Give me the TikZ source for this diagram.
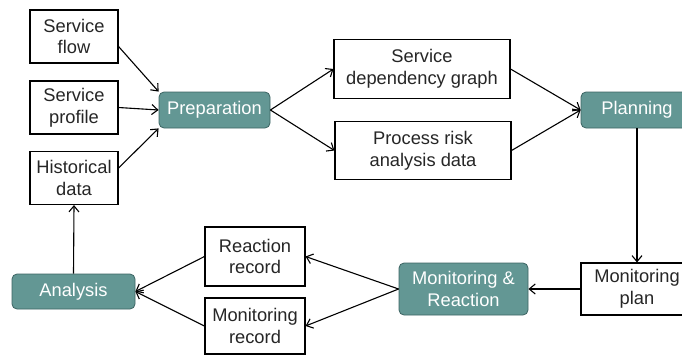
\documentclass[tikz,border=0pt]{standalone}
\usepackage{fontspec}
\setmainfont{Liberation Sans}
\usetikzlibrary{arrows.meta}
\definecolor{tealfill}{RGB}{99,151,148}
\definecolor{tealdraw}{RGB}{60,100,98}
\definecolor{txt}{RGB}{38,38,38}
\tikzset{
  base/.style={font=\fontsize{18.3}{21.7}\selectfont, align=center, inner sep=0pt, line width=1.1pt},
  databox/.style={base, draw=black, fill=white, text=txt},
  phase/.style={base, draw=tealdraw, fill=tealfill, text=white, rounded corners=5pt, line width=0.8pt},
  arr/.style={line width=1.1pt, -{Straight Barb[length=6pt,width=10pt,line width=1.1pt]}}
}
\begin{document}
\begin{tikzpicture}[x=1pt,y=-1pt]
\useasboundingbox (0,0) rectangle (682,356);
\clip (0,0) rectangle (682,356);
\node[databox, minimum width=88pt, minimum height=53pt] (sflow) at (74,36.5) {Service\\flow};
\node[databox, minimum width=88pt, minimum height=53pt] (sprof) at (74,107.5) {Service\\profile};
\node[databox, minimum width=88pt, minimum height=53pt] (hist) at (74,178) {Historical\\data};
\node[phase, minimum width=111pt, minimum height=36pt] (prep) at (214.5,110) {Preparation};
\node[databox, minimum width=176pt, minimum height=59pt] (sdg) at (422,69) {Service\\dependency graph};
\node[databox, minimum width=176pt, minimum height=58pt] (pra) at (423,150.5) {Process risk\\analysis data};
\node[phase, minimum width=112pt, minimum height=36pt] (plan) at (637,110) {Planning};
\node[databox, minimum width=112pt, minimum height=52pt] (mplan) at (637,289) {Monitoring\\plan};
\node[phase, minimum width=129pt, minimum height=52pt] (mr) at (463.5,289) {Monitoring \&\\Reaction};
\node[databox, minimum width=100pt, minimum height=59pt] (rrec) at (255,256.5) {Reaction\\record};
\node[databox, minimum width=100pt, minimum height=56pt] (mrec) at (255,326) {Monitoring\\record};
\node[phase, minimum width=123pt, minimum height=35pt] (ana) at (73.5,291.5) {Analysis};

\draw[arr] ([yshift=-10pt]sflow.east) -- (prep.north west);
\draw[arr] (sprof.east) -- (prep.west);
\draw[arr] ([yshift=10pt]hist.east) -- (prep.south west);
\draw[arr] (prep.east) -- (sdg.west);
\draw[arr] (prep.east) -- (pra.west);
\draw[arr] (sdg.east) -- (plan.west);
\draw[arr] (pra.east) -- (plan.west);
\draw[arr] (plan.south) -- (mplan.north);
\draw[arr] (mplan.west) -- (mr.east);
\draw[arr] (mr.west) -- (rrec.east);
\draw[arr] (mr.west) -- (mrec.east);
\draw[arr] (rrec.west) -- (ana.east);
\draw[arr] (mrec.west) -- (ana.east);
\draw[arr] (ana.north) -- (hist.south);
\end{tikzpicture}
\end{document}
